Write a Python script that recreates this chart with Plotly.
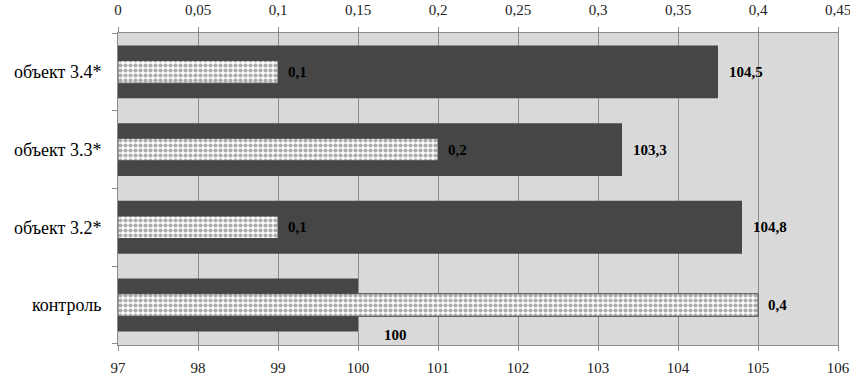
import plotly.graph_objects as go

categories = ["контроль", "объект 3.2*", "объект 3.3*", "объект 3.4*"]
main_values = [100, 104.8, 103.3, 104.5]      # bottom axis (97–106)
pattern_values = [0.4, 0.1, 0.2, 0.1]          # top axis (0–0.45)
bottom_ticks = list(range(97, 107))
top_ticks = [0, 0.05, 0.1, 0.15, 0.2, 0.25, 0.3, 0.35, 0.4, 0.45]


def fmt(v):
    return f"{v:g}".replace(".", ",")


SERIF = "Liberation Serif, Times New Roman, serif"
DARK = "#464646"
GRID = "#8c8c8c"

fig = go.Figure()
fig.add_trace(go.Bar(
    y=categories, x=main_values, orientation="h", width=0.68,
    marker=dict(color=DARK, line=dict(width=0)),
    xaxis="x", yaxis="y", showlegend=False, hoverinfo="x+y",
))
fig.add_trace(go.Bar(
    y=categories, x=pattern_values, orientation="h", width=0.29,
    marker=dict(color="white",
                line=dict(color=DARK, width=1),
                pattern=dict(shape=".", fgcolor="#5a5a5a", bgcolor="white",
                             size=5, solidity=0.55)),
    xaxis="x2", yaxis="y", showlegend=False, hoverinfo="x+y",
))

annotations = []
lab_font = dict(family=SERIF, size=15, color="black")
for cat, v in zip(categories, main_values):
    if cat == "контроль":
        annotations.append(dict(x=v, y=cat, xref="x", yref="y", text="<b>%s</b>" % fmt(v),
                                showarrow=False, xanchor="center", yanchor="middle",
                                xshift=37, yshift=-30, font=lab_font))
    else:
        annotations.append(dict(x=v, y=cat, xref="x", yref="y", text="<b>%s</b>" % fmt(v),
                                showarrow=False, xanchor="left", yanchor="middle",
                                xshift=9, font=lab_font))
for cat, v in zip(categories, pattern_values):
    annotations.append(dict(x=v, y=cat, xref="x2", yref="y", text="<b>%s</b>" % fmt(v),
                            showarrow=False, xanchor="left", yanchor="middle",
                            xshift=8, font=lab_font))

fig.update_layout(
    width=850, height=382,
    margin=dict(l=118, r=12, t=33, b=37),
    paper_bgcolor="white", plot_bgcolor="#d9d9d9",
    separators=", ",
    barmode="overlay",
    annotations=annotations,
    xaxis=dict(range=[97, 106], tickvals=bottom_ticks, side="bottom",
               showgrid=True, gridcolor=GRID, gridwidth=1,
               showline=True, linecolor=GRID, linewidth=1, mirror=False,
               ticks="outside", ticklen=5, tickcolor=GRID, ticklabelstandoff=4,
               ticklabeloverflow="allow",
               tickfont=dict(family=SERIF, size=15, color="#222"),
               zeroline=False, fixedrange=True, automargin=False),
    xaxis2=dict(range=[0, 0.45], tickvals=top_ticks, overlaying="x", side="top",
                showgrid=False, showline=True, linecolor=GRID, linewidth=1,
                ticks="outside", ticklen=5, tickcolor=GRID, ticklabelstandoff=6,
                ticklabeloverflow="allow",
                tickformat=".2~f",
                tickfont=dict(family=SERIF, size=15, color="#222"),
                zeroline=False, fixedrange=True, automargin=False),
    yaxis=dict(categoryorder="array", categoryarray=categories,
               showline=True, linecolor=GRID, linewidth=1, mirror=True,
               ticks="outside", ticklen=5, tickcolor=GRID, tickson="boundaries",
               showgrid=False, ticklabelstandoff=12,
               tickfont=dict(family=SERIF, size=18, color="black"),
               fixedrange=True, automargin=False),
)

fig.write_html("out.html", config={"displayModeBar": False},
               post_script="document.body.style.margin='0';document.body.style.overflow='hidden';")
